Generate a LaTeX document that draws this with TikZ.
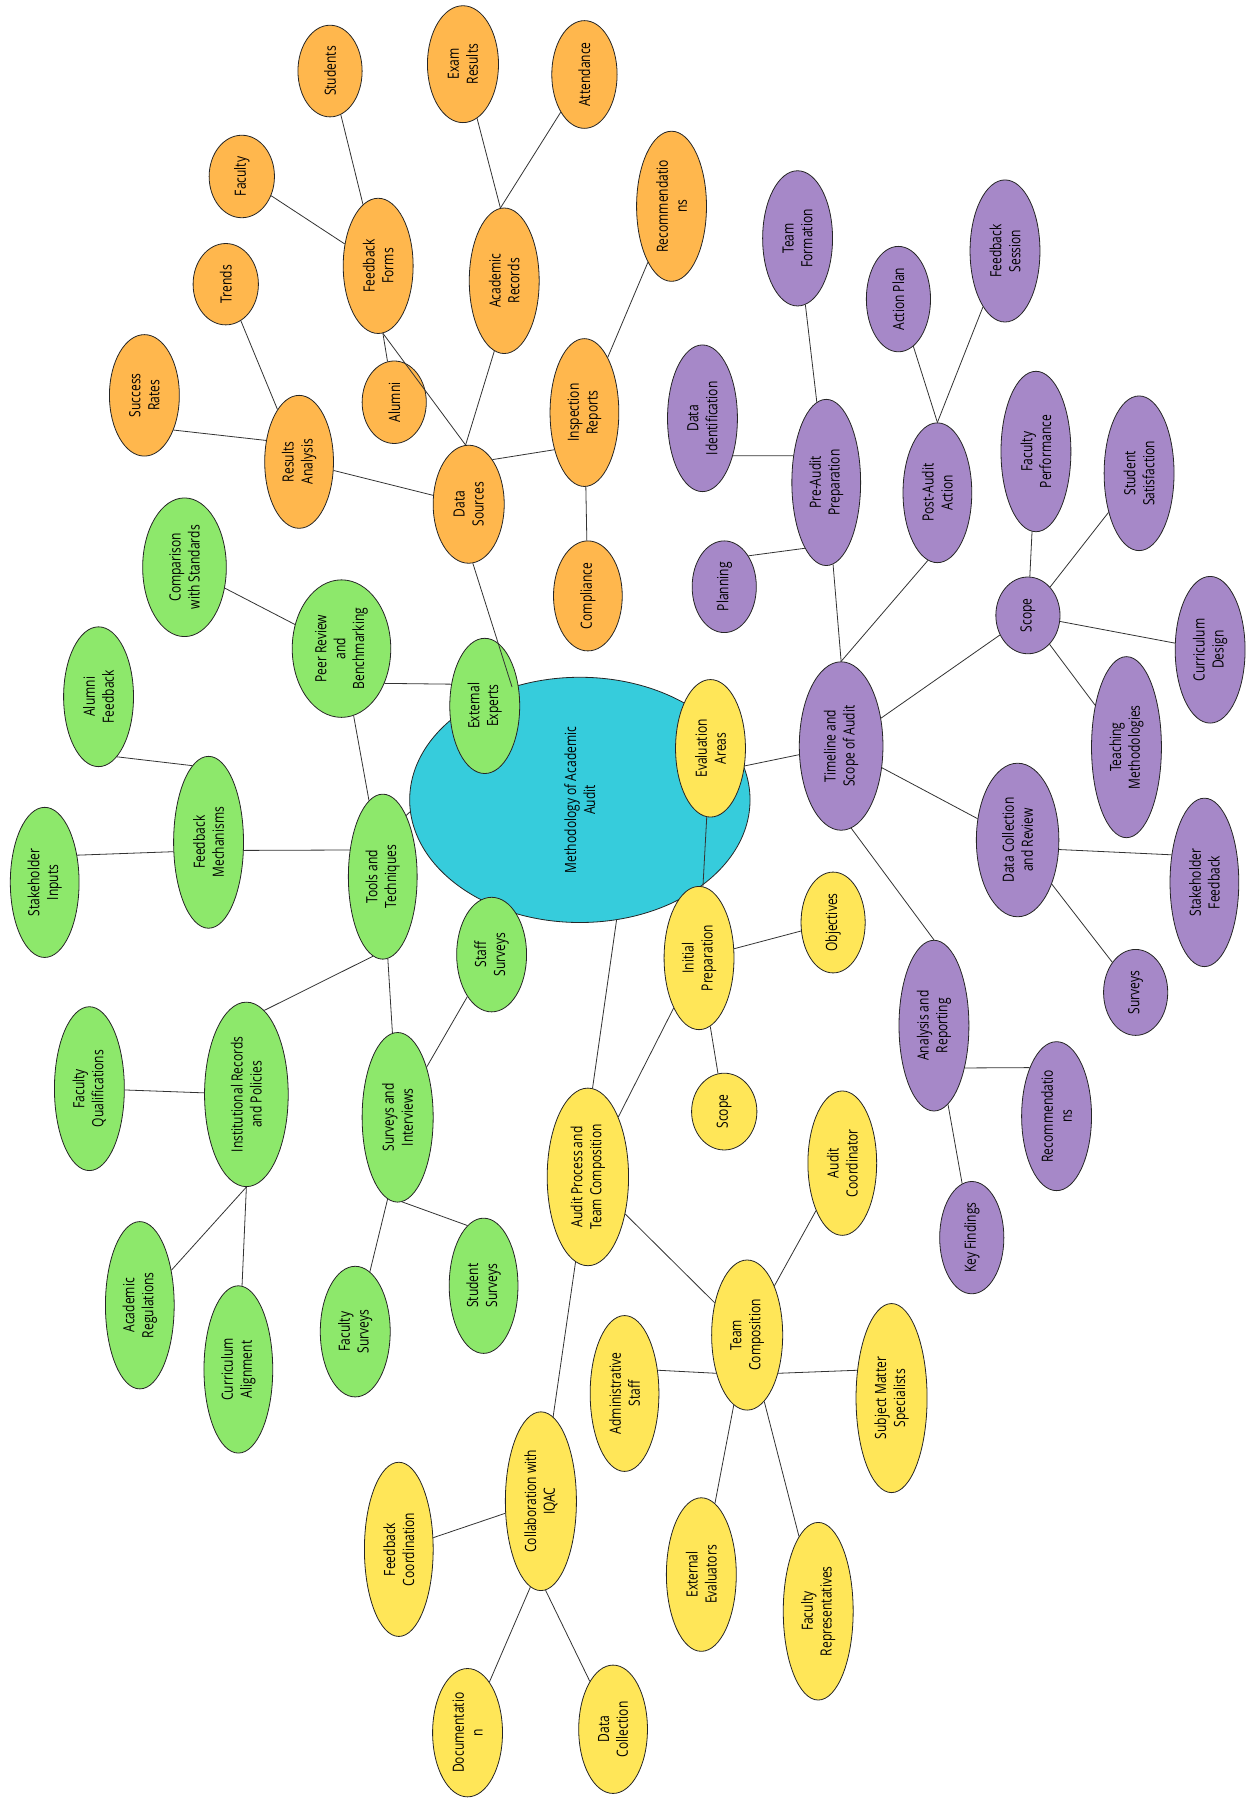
\documentclass[tikz,border=0pt]{standalone}
\usepackage{fontspec}
\setmainfont{Open Sans}[FakeStretch=0.78]
\usetikzlibrary{shapes.geometric}
\definecolor{naranja}{HTML}{FFB74D}
\definecolor{morado}{HTML}{A688C8}
\definecolor{verde}{HTML}{8DE86B}
\definecolor{amarillo}{HTML}{FFE658}
\definecolor{cian}{HTML}{36CCDC}
\begin{document}
\begin{tikzpicture}[x=1pt,y=-1pt,
    bub/.style={ellipse, draw=black!85, line width=0.7pt, rotate=90, inner sep=0pt,
      align=center, font=\fontsize{13.5}{16.5}\selectfont},
    sz/.style 2 args={minimum height=#1pt, minimum width=#2pt},
    nar/.style={bub, fill=naranja},
    mor/.style={bub, fill=morado},
    ama/.style={bub, fill=amarillo},
    ver/.style={bub, fill=verde},
    link/.style={draw=black!80, line width=0.7pt}]
  \useasboundingbox (0,0) rectangle (1096,1569);

  % Nodo central
  \node[bub, fill=cian, sz={297}{214}] (met) at (506,698) {Methodology of Academic\\Audit};

  % Fuentes de datos
  \node[nar, sz={62}{103}] (ds) at (409,440) {Data\\Sources};
  \node[nar, sz={60}{116}] (ra) at (261,403) {Results\\Analysis};
  \node[nar, sz={61}{106}] (sr) at (126,345) {Success\\Rates};
  \node[nar, sz={57}{71}] (tr) at (197,248) {Trends};
  \node[nar, sz={61}{118}] (ff) at (330,232) {Feedback\\Forms};
  \node[nar, sz={57}{72}] (fac) at (211,154) {Faculty};
  \node[nar, sz={56}{80}] (stu) at (288,62) {Students};
  \node[nar, sz={56}{72}] (alu) at (344,351) {Alumni};
  \node[nar, sz={61}{127}] (ar) at (440,245) {Academic\\Records};
  \node[nar, sz={62}{102}] (er) at (404,56) {Exam\\Results};
  \node[nar, sz={57}{94}] (att) at (510,65) {Attendance};
  \node[nar, sz={60}{129}] (ir) at (510,360) {Inspection\\Reports};
  \node[nar, sz={61}{131}] (rec) at (586,180) {Recommendatio\\ns};
  \node[nar, sz={60}{96}] (com) at (513,520) {Compliance};

  % Calendario y alcance
  \node[mor, sz={73}{147}] (tsa) at (734,651) {Timeline and\\Scope of Audit};
  \node[mor, sz={60}{145}] (pap) at (721,421) {Pre-Audit\\Preparation};
  \node[mor, sz={61}{118}] (tf) at (696,208) {Team\\Formation};
  \node[mor, sz={61}{128}] (di) at (613,365) {Data\\Identification};
  \node[mor, sz={56}{80}] (pla) at (632,512) {Planning};
  \node[mor, sz={60}{122}] (paa) at (818,430) {Post-Audit\\Action};
  \node[mor, sz={56}{92}] (ap) at (784,261) {Action Plan};
  \node[mor, sz={61}{124}] (fs) at (877,219) {Feedback\\Session};
  \node[mor, sz={56}{67}] (sco) at (897,537) {Scope};
  \node[mor, sz={61}{140}] (fp) at (904,394) {Faculty\\Performance};
  \node[mor, sz={61}{135}] (ss) at (994,413) {Student\\Satisfaction};
  \node[mor, sz={61}{128}] (cd) at (1056,567) {Curriculum\\Design};
  \node[mor, sz={61}{158}] (tm) at (983,652) {Teaching\\Methodologies};
  \node[mor, sz={72}{134}] (dcr) at (888,733) {Data Collection\\and Review};
  \node[mor, sz={60}{147}] (sf) at (1051,770) {Stakeholder\\Feedback};
  \node[mor, sz={56}{75}] (sur) at (991,866) {Surveys};
  \node[mor, sz={61}{149}] (anr) at (815,895) {Analysis and\\Reporting};
  \node[mor, sz={61}{130}] (rec2) at (922,974) {Recommendatio\\ns};
  \node[mor, sz={56}{98}] (kf) at (848,1080) {Key Findings};

  % Proceso y equipo
  \node[ama, sz={71}{155}] (aptc) at (513,1027) {Audit Process and\\Team Composition};
  \node[ama, sz={61}{125}] (ip) at (610,836) {Initial\\Preparation};
  \node[ama, sz={61}{120}] (ea) at (620,653) {Evaluation\\Areas};
  \node[ama, sz={56}{88}] (obj) at (727,805) {Objectives};
  \node[ama, sz={57}{67}] (scy) at (632,970) {Scope};
  \node[ama, sz={62}{131}] (tc) at (652,1165) {Team\\Composition};
  \node[ama, sz={60}{126}] (ac) at (735,1015) {Audit\\Coordinator};
  \node[ama, sz={60}{136}] (adm) at (545,1216) {Administrative\\Staff};
  \node[ama, sz={62}{165}] (sms) at (778,1220) {Subject Matter\\Specialists};
  \node[ama, sz={61}{134}] (ee) at (612,1374) {External\\Evaluators};
  \node[ama, sz={61}{155}] (fr) at (714,1406) {Faculty\\Representatives};
  \node[ama, sz={62}{156}] (ciq) at (472,1310) {Collaboration with\\IQAC};
  \node[ama, sz={60}{152}] (fc) at (348,1352) {Feedback\\Coordination};
  \node[ama, sz={61}{112}] (doc) at (408,1512) {Documentatio\\n};
  \node[ama, sz={60}{112}] (dc) at (535,1509) {Data\\Collection};

  % Herramientas
  \node[ver, sz={60}{144}] (tt) at (334,765) {Tools and\\Techniques};
  \node[ver, sz={86}{120}] (prb) at (298,566) {Peer Review\\and\\Benchmarking};
  \node[ver, sz={73}{121}] (cws) at (161,495) {Comparison\\with Standards};
  \node[ver, sz={61}{118}] (exe) at (423,616) {External\\Experts};
  \node[ver, sz={61}{150}] (fm) at (182,735) {Feedback\\Mechanisms};
  \node[ver, sz={61}{122}] (af) at (86,608) {Alumni\\Feedback};
  \node[ver, sz={60}{131}] (si) at (39,770) {Stakeholder\\Inputs};
  \node[ver, sz={73}{161}] (irp) at (215,955) {Institutional Records\\and Policies};
  \node[ver, sz={61}{143}] (fq) at (78,950) {Faculty\\Qualifications};
  \node[ver, sz={60}{146}] (areg) at (122,1139) {Academic\\Regulations};
  \node[ver, sz={60}{146}] (ca) at (208,1195) {Curriculum\\Alignment};
  \node[ver, sz={62}{148}] (sai) at (347,975) {Surveys and\\Interviews};
  \node[ver, sz={61}{100}] (sts) at (429,833) {Staff\\Surveys};
  \node[ver, sz={61}{114}] (fsu) at (310,1162) {Faculty\\Surveys};
  \node[ver, sz={60}{118}] (ssu) at (422,1122) {Student\\Surveys};

  % Conexiones
  \foreach \a/\b in {ds.-176/met.31.5, ds/ra, sr.-140/ra.57, ra/tr, ff.-176/ds.3,
      ff/fac, ff/stu, ff.-176/alu, ar.172/ds.3, er/ar.3, att/ar.3, ir.141/ds.-28,
      ir/rec, ir/com,
      met/tsa, tsa.0/pap, pap/tf, di.-141/pap.51, pla.-38/pap.162, tsa.0/paa.172,
      paa.0/ap, paa.0/fs, tsa/sco, sco/fp, sco/ss, sco/cd, sco/tm, tsa/dcr,
      dcr.-103/sf.50, dcr/sur, tsa.-173/anr.0, anr.-144/rec2.29, anr/kf,
      aptc.-3/met.-163, aptc/ip, ip/ea, ip/obj, ip/scy, aptc/tc, tc/ac,
      tc.141/adm.-55, tc.-141/sms.51, tc/ee, tc/fr, aptc/ciq, ciq/fc,
      ciq.173/doc, ciq.183/dc,
      tt.-21/met.94, tt/prb, prb/cws, prb.-129/exe.57, fm.-103/tt.51, af.-163/fm.12,
      fm.105/si.-50, tt.173/irp.-12, irp/fq, irp.180/areg, irp.180/ca, tt/sai,
      sai/sts, sai.173/fsu, sai.-177/ssu.15}
    \draw[link] (\a) -- (\b);
\end{tikzpicture}
\end{document}
